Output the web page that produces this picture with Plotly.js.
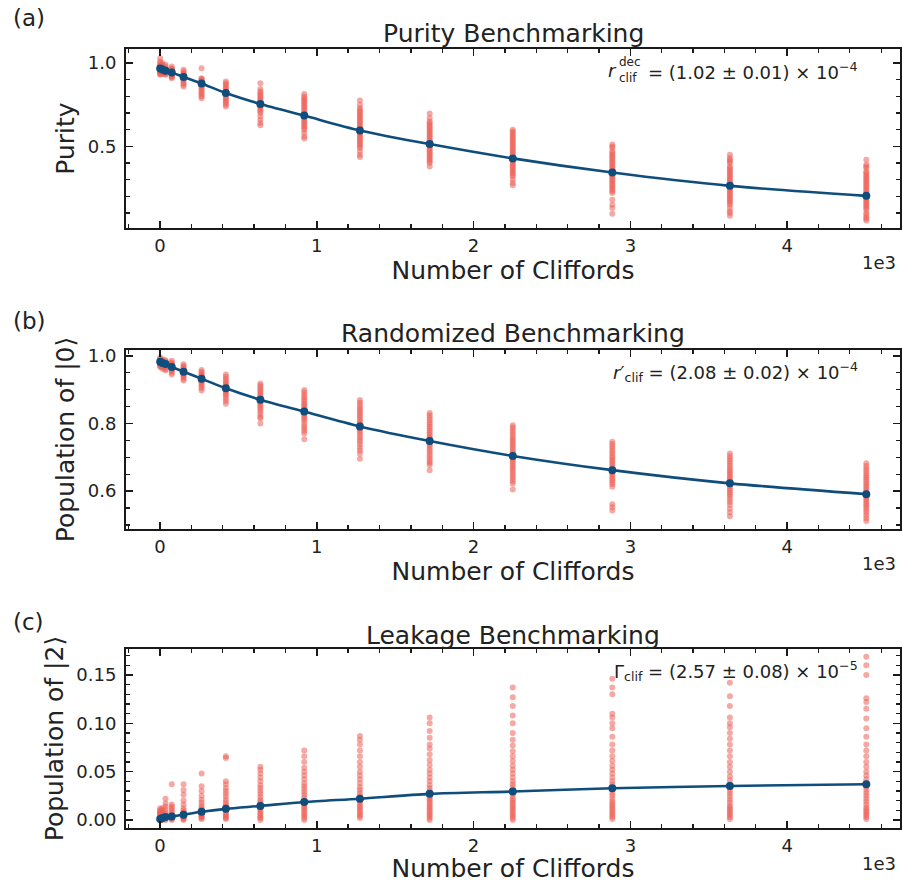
<!DOCTYPE html>
<html>
<head>
<meta charset="utf-8">
<script src="https://cdn.plot.ly/plotly-3.0.1.min.js"></script>
<style>html,body{margin:0;padding:0;background:#fff;}#chart{width:902px;height:883px;}</style>
</head>
<body>
<div id="chart"></div>
<script>
// ---------------- DATA ----------------
const lengths = [1, 15, 35, 75, 150, 265, 420, 640, 920, 1275, 1720, 2250, 2885, 3635, 4505];
const xTickVals = [0, 1000, 2000, 3000, 4000];
const xTickText = ['0', '1', '2', '3', '4'];

// (a) Purity benchmarking
const purityMean = [0.968, 0.962, 0.955, 0.944, 0.917, 0.878, 0.821, 0.755, 0.685, 0.596, 0.514, 0.428, 0.343, 0.263, 0.203];
const purityShots = [
  [1.03, 1.01, 0.99, 0.98, 0.975, 0.97, 0.965, 0.96, 0.955, 0.95, 0.945, 0.94, 0.935, 0.93, 1.0, 0.985],
  [1.0, 0.99, 0.98, 0.97, 0.965, 0.96, 0.955, 0.95, 0.945, 0.94, 0.935, 0.975],
  [0.99, 0.98, 0.97, 0.96, 0.955, 0.95, 0.945, 0.94, 0.935, 0.93, 0.965],
  [0.98, 0.97, 0.965, 0.96, 0.955, 0.95, 0.945, 0.94, 0.935, 0.93, 0.925, 0.92, 0.915, 0.91],
  [0.96, 0.95, 0.94, 0.935, 0.93, 0.925, 0.92, 0.915, 0.91, 0.905, 0.9, 0.89, 0.88, 0.87, 0.86],
  [0.97, 0.91, 0.905, 0.9, 0.89, 0.885, 0.88, 0.875, 0.87, 0.865, 0.86, 0.85, 0.84, 0.83, 0.82, 0.81, 0.8, 0.79],
  [0.89, 0.88, 0.87, 0.86, 0.85, 0.84, 0.83, 0.825, 0.82, 0.815, 0.81, 0.8, 0.79, 0.78, 0.77, 0.76, 0.75, 0.74],
  [0.88, 0.845, 0.83, 0.82, 0.81, 0.8, 0.79, 0.78, 0.77, 0.76, 0.755, 0.75, 0.74, 0.73, 0.72, 0.71, 0.7, 0.68, 0.66, 0.64, 0.627],
  [0.815, 0.8, 0.79, 0.78, 0.77, 0.76, 0.75, 0.74, 0.73, 0.72, 0.71, 0.7, 0.69, 0.68, 0.67, 0.66, 0.65, 0.64, 0.63, 0.62, 0.61, 0.6, 0.58, 0.56, 0.547],
  [0.775, 0.75, 0.73, 0.72, 0.71, 0.7, 0.69, 0.68, 0.67, 0.66, 0.65, 0.64, 0.63, 0.62, 0.61, 0.6, 0.59, 0.58, 0.57, 0.56, 0.55, 0.54, 0.53, 0.52, 0.51, 0.5, 0.49, 0.47, 0.45, 0.437],
  [0.697, 0.67, 0.65, 0.64, 0.63, 0.62, 0.61, 0.6, 0.59, 0.58, 0.57, 0.56, 0.55, 0.54, 0.53, 0.52, 0.51, 0.5, 0.49, 0.48, 0.47, 0.46, 0.45, 0.44, 0.43, 0.42, 0.41, 0.4, 0.38],
  [0.6, 0.59, 0.58, 0.57, 0.56, 0.55, 0.54, 0.53, 0.52, 0.51, 0.5, 0.49, 0.48, 0.47, 0.46, 0.45, 0.44, 0.43, 0.42, 0.41, 0.4, 0.39, 0.38, 0.37, 0.36, 0.35, 0.34, 0.33, 0.32, 0.3, 0.28, 0.267],
  [0.512, 0.5, 0.49, 0.47, 0.46, 0.45, 0.44, 0.43, 0.42, 0.41, 0.4, 0.39, 0.38, 0.37, 0.36, 0.35, 0.34, 0.33, 0.32, 0.31, 0.3, 0.29, 0.28, 0.27, 0.26, 0.25, 0.24, 0.23, 0.22, 0.18, 0.15, 0.13, 0.096],
  [0.45, 0.43, 0.42, 0.41, 0.4, 0.38, 0.37, 0.36, 0.35, 0.34, 0.33, 0.32, 0.31, 0.3, 0.29, 0.28, 0.27, 0.26, 0.25, 0.24, 0.23, 0.22, 0.21, 0.2, 0.19, 0.18, 0.17, 0.16, 0.15, 0.13, 0.11, 0.1, 0.084],
  [0.42, 0.39, 0.38, 0.37, 0.35, 0.34, 0.33, 0.32, 0.31, 0.3, 0.29, 0.28, 0.27, 0.26, 0.25, 0.24, 0.23, 0.22, 0.21, 0.2, 0.19, 0.18, 0.17, 0.16, 0.15, 0.14, 0.13, 0.12, 0.1, 0.09, 0.075, 0.065, 0.055]
];

// (b) Randomized benchmarking
const rbMean = [0.982, 0.979, 0.976, 0.967, 0.953, 0.932, 0.904, 0.870, 0.835, 0.791, 0.748, 0.704, 0.662, 0.623, 0.591];
const rbShots = [
  [0.995, 0.99, 0.988, 0.985, 0.983, 0.98, 0.978, 0.975, 0.972, 0.97, 0.967],
  [0.99, 0.987, 0.984, 0.981, 0.979, 0.976, 0.973, 0.97, 0.966, 0.962],
  [0.987, 0.984, 0.981, 0.978, 0.975, 0.972, 0.969, 0.965, 0.96, 0.957],
  [0.985, 0.98, 0.977, 0.974, 0.971, 0.968, 0.965, 0.962, 0.958, 0.954, 0.95, 0.945],
  [0.975, 0.97, 0.966, 0.962, 0.958, 0.955, 0.952, 0.949, 0.945, 0.941, 0.937, 0.932, 0.927],
  [0.958, 0.953, 0.948, 0.944, 0.94, 0.937, 0.934, 0.931, 0.928, 0.924, 0.92, 0.915, 0.91, 0.904, 0.897],
  [0.945, 0.938, 0.932, 0.926, 0.921, 0.916, 0.912, 0.908, 0.904, 0.9, 0.896, 0.891, 0.886, 0.88, 0.873, 0.866, 0.858],
  [0.918, 0.912, 0.906, 0.9, 0.895, 0.89, 0.885, 0.88, 0.876, 0.872, 0.868, 0.864, 0.859, 0.854, 0.848, 0.842, 0.835, 0.828, 0.82, 0.815, 0.8],
  [0.899, 0.892, 0.885, 0.878, 0.872, 0.866, 0.86, 0.855, 0.85, 0.845, 0.84, 0.835, 0.83, 0.825, 0.82, 0.814, 0.808, 0.8, 0.792, 0.785, 0.778, 0.77, 0.753],
  [0.869, 0.862, 0.855, 0.848, 0.842, 0.836, 0.83, 0.824, 0.818, 0.812, 0.806, 0.8, 0.795, 0.79, 0.785, 0.779, 0.773, 0.766, 0.759, 0.752, 0.745, 0.737, 0.728, 0.72, 0.711, 0.696],
  [0.831, 0.824, 0.817, 0.81, 0.803, 0.797, 0.79, 0.784, 0.778, 0.772, 0.766, 0.76, 0.754, 0.748, 0.742, 0.736, 0.73, 0.724, 0.717, 0.71, 0.703, 0.696, 0.689, 0.683, 0.677, 0.662],
  [0.795, 0.788, 0.781, 0.774, 0.767, 0.76, 0.754, 0.748, 0.742, 0.736, 0.73, 0.724, 0.718, 0.712, 0.706, 0.7, 0.694, 0.688, 0.682, 0.676, 0.67, 0.664, 0.657, 0.65, 0.643, 0.636, 0.629, 0.622, 0.605],
  [0.746, 0.739, 0.732, 0.725, 0.718, 0.711, 0.704, 0.698, 0.692, 0.686, 0.68, 0.674, 0.668, 0.662, 0.656, 0.65, 0.644, 0.638, 0.632, 0.626, 0.62, 0.613, 0.561, 0.552, 0.543],
  [0.711, 0.703, 0.696, 0.689, 0.682, 0.675, 0.668, 0.662, 0.656, 0.65, 0.644, 0.638, 0.632, 0.626, 0.62, 0.614, 0.608, 0.602, 0.596, 0.59, 0.584, 0.576, 0.568, 0.56, 0.548, 0.537, 0.526],
  [0.682, 0.674, 0.667, 0.66, 0.653, 0.646, 0.64, 0.634, 0.628, 0.622, 0.616, 0.61, 0.604, 0.598, 0.592, 0.586, 0.58, 0.574, 0.568, 0.562, 0.556, 0.55, 0.543, 0.536, 0.528, 0.52, 0.512]
];

// (c) Leakage benchmarking
const leakMean = [0.001, 0.002, 0.003, 0.0035, 0.0055, 0.0085, 0.0115, 0.0145, 0.0185, 0.022, 0.027, 0.0294, 0.0328, 0.0352, 0.037];
const leakShots = [
  [0, 0.001, 0.002, 0.003, 0.004, 0.005, 0.006, 0.007, 0.008, 0.009, 0.01, 0.012],
  [0, 0.001, 0.002, 0.003, 0.004, 0.005, 0.006, 0.008, 0.01, 0.012],
  [0, 0.001, 0.002, 0.003, 0.004, 0.006, 0.008, 0.011, 0.014, 0.017, 0.022],
  [0, 0.001, 0.002, 0.003, 0.004, 0.005, 0.006, 0.008, 0.01, 0.012, 0.014, 0.016, 0.037],
  [0, 0.001, 0.002, 0.003, 0.004, 0.005, 0.006, 0.008, 0.01, 0.012, 0.016, 0.02, 0.026, 0.031, 0.037],
  [0.001, 0.002, 0.003, 0.004, 0.005, 0.006, 0.007, 0.008, 0.009, 0.011, 0.013, 0.015, 0.018, 0.021, 0.025, 0.03, 0.035, 0.048],
  [0.001, 0.002, 0.003, 0.005, 0.006, 0.008, 0.01, 0.012, 0.014, 0.016, 0.018, 0.021, 0.024, 0.027, 0.03, 0.033, 0.037, 0.04, 0.064, 0.066],
  [0, 0.002, 0.003, 0.005, 0.007, 0.009, 0.011, 0.013, 0.015, 0.017, 0.019, 0.021, 0.024, 0.027, 0.03, 0.033, 0.036, 0.04, 0.044, 0.048, 0.052, 0.055],
  [0, 0.002, 0.004, 0.006, 0.008, 0.01, 0.012, 0.014, 0.016, 0.018, 0.02, 0.023, 0.026, 0.029, 0.032, 0.035, 0.038, 0.042, 0.046, 0.05, 0.054, 0.06, 0.066, 0.072],
  [0.002, 0.004, 0.006, 0.008, 0.01, 0.012, 0.014, 0.016, 0.018, 0.02, 0.022, 0.025, 0.028, 0.031, 0.034, 0.038, 0.042, 0.046, 0.05, 0.055, 0.06, 0.066, 0.072, 0.078, 0.083, 0.087],
  [0, 0.002, 0.004, 0.006, 0.008, 0.01, 0.012, 0.014, 0.016, 0.018, 0.02, 0.022, 0.024, 0.027, 0.03, 0.033, 0.036, 0.04, 0.044, 0.048, 0.052, 0.057, 0.062, 0.068, 0.074, 0.078, 0.085, 0.092, 0.1, 0.106],
  [0, 0.002, 0.004, 0.006, 0.008, 0.01, 0.012, 0.014, 0.016, 0.018, 0.02, 0.022, 0.025, 0.028, 0.031, 0.034, 0.037, 0.04, 0.044, 0.048, 0.052, 0.056, 0.061, 0.066, 0.071, 0.077, 0.083, 0.09, 0.1, 0.108, 0.118, 0.127, 0.137],
  [0.001, 0.003, 0.005, 0.007, 0.009, 0.011, 0.013, 0.015, 0.017, 0.019, 0.022, 0.025, 0.028, 0.031, 0.034, 0.037, 0.04, 0.044, 0.048, 0.052, 0.056, 0.061, 0.066, 0.072, 0.078, 0.086, 0.095, 0.1, 0.106, 0.11, 0.13, 0.137, 0.146],
  [0.001, 0.003, 0.005, 0.007, 0.009, 0.011, 0.013, 0.015, 0.018, 0.021, 0.024, 0.027, 0.03, 0.033, 0.037, 0.041, 0.045, 0.05, 0.055, 0.06, 0.066, 0.072, 0.078, 0.084, 0.09, 0.096, 0.1, 0.106, 0.118, 0.128, 0.142],
  [0.001, 0.003, 0.005, 0.007, 0.009, 0.011, 0.013, 0.016, 0.019, 0.022, 0.025, 0.028, 0.031, 0.034, 0.038, 0.042, 0.046, 0.05, 0.055, 0.06, 0.066, 0.072, 0.078, 0.086, 0.095, 0.105, 0.115, 0.122, 0.126, 0.15, 0.16, 0.169]
];

const panelTitles = ['Purity Benchmarking', 'Randomized Benchmarking', 'Leakage Benchmarking'];
const panelLetters = ['(a)', '(b)', '(c)'];
const yTitles = ['Purity', 'Population of |0⟩', 'Population of |2⟩'];
const xTitle = 'Number of Cliffords';

// ---------------- BUILD ----------------
const RED = 'rgba(236,98,90,0.55)';
const BLUE = '#0f4d7d';
const FONT = 'DejaVu Sans, Liberation Sans, sans-serif';
const INK = '#222222';

function flatten(shots) {
  const xs = [], ys = [];
  shots.forEach((arr, i) => arr.forEach(v => { xs.push(lengths[i]); ys.push(v); }));
  return {xs, ys};
}

const panels = [
  {shots: purityShots, mean: purityMean},
  {shots: rbShots, mean: rbMean},
  {shots: leakShots, mean: leakMean}
];

const traces = [];
panels.forEach((p, k) => {
  const ax = k === 0 ? '' : String(k + 1);
  const f = flatten(p.shots);
  traces.push({
    type: 'scatter', mode: 'markers', x: f.xs, y: f.ys,
    xaxis: 'x' + ax, yaxis: 'y' + ax, showlegend: false, hoverinfo: 'skip',
    marker: {color: RED, size: 6, line: {width: 0}}
  });
  traces.push({
    type: 'scatter', mode: 'lines+markers', x: lengths, y: p.mean,
    xaxis: 'x' + ax, yaxis: 'y' + ax, showlegend: false,
    line: {color: BLUE, width: 2.6, shape: 'spline', smoothing: 0.8},
    marker: {color: BLUE, size: 8}
  });
});

function xAxis(anchor, standoff) {
  return {
    anchor: anchor, domain: [0, 1], range: [-217, 4720],
    tickmode: 'array', tickvals: xTickVals, ticktext: xTickText,
    showline: true, linewidth: 2, linecolor: '#1a1a1a', mirror: 'allticks',
    ticks: 'inside', ticklen: 7, tickwidth: 1.6, tickcolor: '#1a1a1a',
    minor: {tickmode: 'linear', tick0: 0, dtick: 200, ticks: 'inside', ticklen: 4, tickwidth: 1.3, tickcolor: '#1a1a1a'},
    showgrid: false, zeroline: false,
    tickfont: {family: FONT, size: 18, color: INK},
    title: {text: xTitle, font: {family: FONT, size: 25, color: INK}, standoff: standoff}
  };
}
function yAxis(anchor, domain, range, dtick, minorDtick, fmt, title) {
  return {
    anchor: anchor, domain: domain, range: range,
    tickmode: 'linear', tick0: 0, dtick: dtick, tickformat: fmt,
    showline: true, linewidth: 2, linecolor: '#1a1a1a', mirror: 'allticks',
    ticks: 'inside', ticklen: 7, tickwidth: 1.6, tickcolor: '#1a1a1a',
    minor: {tickmode: 'linear', tick0: 0, dtick: minorDtick, ticks: 'inside', ticklen: 4, tickwidth: 1.3, tickcolor: '#1a1a1a'},
    showgrid: false, zeroline: false, ticklabelstandoff: 4,
    tickfont: {family: FONT, size: 18, color: INK},
    title: {text: title, font: {family: FONT, size: 25, color: INK}, standoff: 6}
  };
}

const dA = [0.7418, 0.9445], dB = [0.4009, 0.6036], dC = [0.0620, 0.2651];

const annotations = [];
const titleY = [1.089, 1.095, 1.0765];
const letterY = [0.98, 0.636, 0.296];
['', '2', '3'].forEach((ax, k) => {
  annotations.push({xref: 'paper', yref: 'y' + ax + ' domain', x: 0.5, y: titleY[k], xanchor: 'center', yanchor: 'middle',
    text: panelTitles[k], showarrow: false, font: {family: FONT, size: 25, color: INK}});
  annotations.push({xref: 'paper', yref: 'paper', x: -0.149, y: letterY[k], xanchor: 'left', yanchor: 'middle',
    text: panelLetters[k], showarrow: false, font: {family: FONT, size: 23, color: INK}});
  annotations.push({xref: 'paper', yref: 'y' + ax + ' domain', x: 0.998, y: -0.195, xanchor: 'right', yanchor: 'middle',
    text: '1e3', showarrow: false, font: {family: FONT, size: 18, color: INK}});
});
// fit results
const fx = (px) => (px - 126) / 774;
annotations.push({xref: 'paper', yref: 'y domain', x: fx(606), y: 0.879, xanchor: 'left', yanchor: 'middle',
  text: '<i>r</i>', showarrow: false, font: {family: FONT, size: 18, color: INK}});
annotations.push({xref: 'paper', yref: 'y domain', x: fx(617), y: 0.925, xanchor: 'left', yanchor: 'middle',
  text: 'dec', showarrow: false, font: {family: FONT, size: 12, color: INK}});
annotations.push({xref: 'paper', yref: 'y domain', x: fx(617), y: 0.84, xanchor: 'left', yanchor: 'middle',
  text: 'clif', showarrow: false, font: {family: FONT, size: 12, color: INK}});
annotations.push({xref: 'paper', yref: 'y domain', x: fx(860), y: 0.879, xanchor: 'right', yanchor: 'middle',
  text: '= (1.02 ± 0.01) × 10<sup>−4</sup>', showarrow: false, font: {family: FONT, size: 18, color: INK}});
annotations.push({xref: 'paper', yref: 'y2 domain', x: fx(860), y: 0.875, xanchor: 'right', yanchor: 'middle',
  text: '<i>r</i>′<sub>clif</sub> = (2.08 ± 0.02) × 10<sup>−4</sup>', showarrow: false, font: {family: FONT, size: 18, color: INK}});
annotations.push({xref: 'paper', yref: 'y3 domain', x: fx(860), y: 0.875, xanchor: 'right', yanchor: 'middle',
  text: 'Γ<sub>clif</sub> = (2.57 ± 0.08) × 10<sup>−5</sup>', showarrow: false, font: {family: FONT, size: 18, color: INK}});

const layout = {
  width: 902, height: 883,
  margin: {l: 126, r: 2, t: 0, b: 0},
  paper_bgcolor: '#ffffff', plot_bgcolor: '#ffffff',
  font: {family: FONT, color: INK},
  showlegend: false,
  xaxis: xAxis('y', 2), xaxis2: xAxis('y2', 2), xaxis3: xAxis('y3', 5),
  yaxis: yAxis('x', dA, [0.01, 1.085], 0.5, 0.1, '.1f', yTitles[0]),
  yaxis2: yAxis('x2', dB, [0.488, 1.017], 0.2, 0.05, '.1f', yTitles[1]),
  yaxis3: yAxis('x3', dC, [-0.0086, 0.177], 0.05, 0.01, '.2f', yTitles[2]),
  annotations: annotations
};

Plotly.newPlot('chart', traces, layout, {displayModeBar: false, staticPlot: true});
</script>
</body>
</html>
